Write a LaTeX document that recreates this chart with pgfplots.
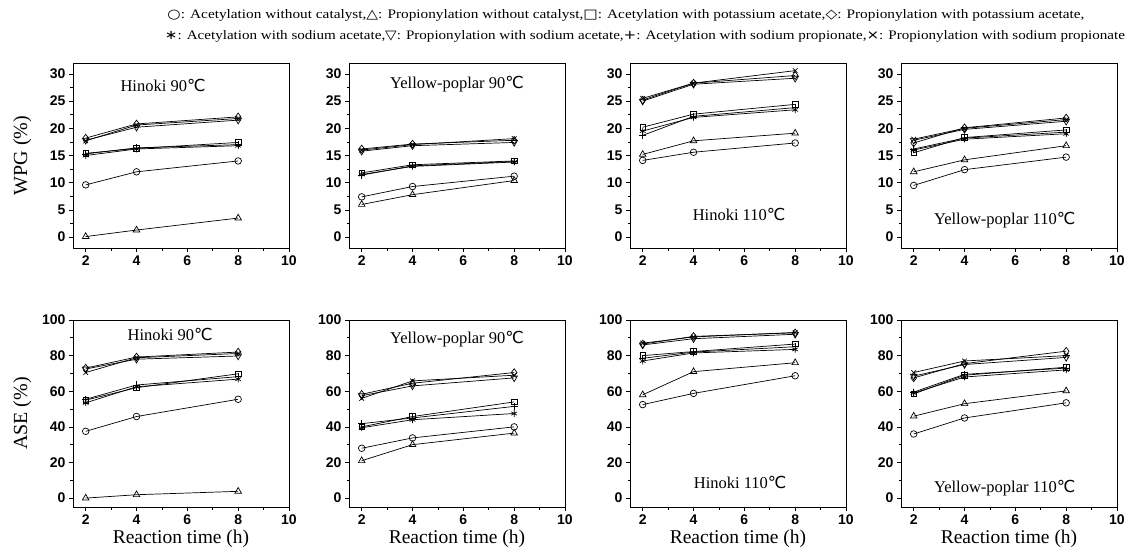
\documentclass[border=0pt]{standalone}
\usepackage{fontspec}
\setmainfont{Liberation Serif}
\newfontfamily\tickfont{Liberation Sans}
\newfontfamily\symfont{DejaVu Sans}
\usepackage{graphicx}
\usepackage{pgfplots}
\usepackage{pgfplotstable}
\pgfplotsset{compat=1.18}
\newcommand{\degC}{{\symfont ℃}}

% x O(Ac none) T(Pr none) Sq(Ac K) Di(Pr K) Ast(Ac Na-ac) TD(Pr Na-ac) Pl(Ac Na-pr) X(Pr Na-pr)
\pgfplotstableread{
x O T Sq Di Ast TD Pl X
2 9.6 0.1 15.4 18.2 15.0 17.8 15.3 17.7
4 12.0 1.3 16.3 20.8 16.2 20.2 16.4 20.6
8 14.0 3.5 17.4 22.1 16.8 21.5 17.0 21.8
}\wpgHa
\pgfplotstableread{
x O T Sq Di Ast TD Pl X
2 7.4 6.0 11.8 16.2 11.5 15.8 11.4 16.0
4 9.3 7.8 13.3 17.1 13.0 16.8 13.1 17.0
8 11.2 10.4 14.0 17.8 13.8 17.4 13.9 18.1
}\wpgYa
\pgfplotstableread{
x O T Sq Di Ast TD Pl X
2 14.1 15.2 20.2 25.2 19.5 25.0 18.7 25.5
4 15.6 17.7 22.6 28.3 22.0 28.1 22.2 28.3
8 17.3 19.1 24.4 29.7 23.4 29.2 23.8 30.6
}\wpgHb
\pgfplotstableread{
x O T Sq Di Ast TD Pl X
2 9.5 12.0 15.5 17.3 16.0 17.8 16.2 18.0
4 12.4 14.2 18.3 20.1 18.0 19.8 18.2 20.0
8 14.7 16.8 19.7 21.9 19.0 21.3 19.3 21.6
}\wpgYb
\pgfplotstableread{
x O T Sq Di Ast TD Pl X
2 37.5 0.0 55.0 73.0 53.5 72.5 55.5 70.5
4 45.8 1.9 62.0 79.2 62.5 78.0 63.5 78.8
8 55.5 3.8 69.8 82.0 66.8 79.8 68.2 81.2
}\aseHa
\pgfplotstableread{
x O T Sq Di Ast TD Pl X
2 28.0 21.0 40.0 58.3 39.5 57.5 41.8 56.0
4 33.8 30.0 45.8 64.5 44.0 63.0 45.0 65.8
8 40.0 36.5 54.0 70.5 47.5 67.5 51.5 69.0
}\aseYa
\pgfplotstableread{
x O T Sq Di Ast TD Pl X
2 52.5 58.0 80.0 86.5 77.0 86.0 78.5 87.0
4 58.8 71.0 82.3 90.8 81.5 89.5 82.0 90.5
8 68.7 76.0 86.5 92.8 83.5 92.0 85.0 93.0
}\aseHb
\pgfplotstableread{
x O T Sq Di Ast TD Pl X
2 36.0 46.0 58.5 67.5 59.0 68.5 59.5 70.5
4 45.0 53.0 69.0 75.5 68.0 75.0 69.5 77.0
8 53.5 60.2 73.5 82.5 72.0 79.0 73.0 80.0
}\aseYb

\pgfplotsset{
  panel/.style={scale only axis, width=216pt, anchor=north west,
    xmin=1.5, xmax=10, xtick={2,4,6,8,10}, minor x tick num=1,
    axis line style={line width=0.9pt}, tick style={black, line width=0.7pt},
    tick align=outside, tick pos=left, major tick length=4pt, minor tick length=2.5pt,
    tick label style={font=\tickfont\bfseries\fontsize{14}{15}\selectfont},
    /pgf/number format/assume math mode=true,
    every axis y label/.style={at={(axis description cs:-0.235,0.5)}, rotate=90, anchor=center, font=\fontsize{20}{23}\selectfont},
    every axis x label/.style={at={(axis description cs:0.5,-0.118)}, anchor=north, inner ysep=1pt, font=\fontsize{19.5}{22}\selectfont},
    every axis plot/.append style={black, line width=0.7pt, mark size=3.3pt, mark options={fill=white, solid, line width=0.7pt}},
  },
  toprow/.style={panel, height=185pt, ymin=-2, ymax=32, ytick={0,5,...,30}, minor y tick num=1},
  botrow/.style={panel, height=187pt, ymin=-5, ymax=100, ytick={0,20,...,100}, minor y tick num=1},
  pO/.style={mark=o},
  pT/.style={mark=triangle, mark size=3.8pt},
  pSq/.style={mark=square, mark size=2.8pt},
  pDi/.style={mark=diamond, mark size=3.8pt},
  pAst/.style={mark=asterisk, mark size=3.3pt},
  pTD/.style={mark=triangle, mark size=3.8pt, mark options={fill=white, solid, rotate=180, line width=0.7pt}},
  pPl/.style={mark=+, mark size=3.6pt},
  pX/.style={mark=x, mark size=3.3pt},
}
\newcommand\allplots[1]{%
  \addplot[pO] table[x=x,y=O]{#1};
  \addplot[pT] table[x=x,y=T]{#1};
  \addplot[pAst] table[x=x,y=Ast]{#1};
  \addplot[pPl] table[x=x,y=Pl]{#1};
  \addplot[pSq] table[x=x,y=Sq]{#1};
  \addplot[pX] table[x=x,y=X]{#1};
  \addplot[pTD] table[x=x,y=TD]{#1};
  \addplot[pDi] table[x=x,y=Di]{#1};
}
\newcommand\ttl[3]{\node[font=\fontsize{16.5}{19}\selectfont, anchor=center] at (rel axis cs:#1,#2) {#3};}

\begin{document}
\begin{tikzpicture}
\useasboundingbox (0,0) rectangle (1130pt,-549pt);
\node[anchor=center] at (626pt,-15pt) {\resizebox{917pt}{\height}{\fontsize{13}{15}\selectfont{\symfont ○}: Acetylation without catalyst,{\symfont △}: Propionylation without catalyst,{\symfont □}: Acetylation with potassium acetate,{\symfont ◇}: Propionylation with potassium acetate,}};
\node[anchor=center] at (645pt,-36pt) {\resizebox{960pt}{\height}{\fontsize{13}{15}\selectfont{\symfont ∗}: Acetylation with sodium acetate,{\symfont ▽}: Propionylation with sodium acetate,{\symfont +}: Acetylation with sodium propionate,{\symfont ×}: Propionylation with sodium propionate}};

\begin{axis}[toprow, at={(73pt,-63pt)}, ylabel={WPG (\%)}]
\allplots{\wpgHa}
\ttl{0.417}{0.88}{Hinoki 90\degC}
\end{axis}
\begin{axis}[toprow, at={(349pt,-63pt)}]
\allplots{\wpgYa}
\ttl{0.50}{0.885}{Yellow-poplar 90\degC}
\end{axis}
\begin{axis}[toprow, at={(630pt,-63pt)}]
\allplots{\wpgHb}
\ttl{0.505}{0.18}{Hinoki 110\degC}
\end{axis}
\begin{axis}[toprow, at={(901pt,-63pt)}]
\allplots{\wpgYb}
\ttl{0.48}{0.15}{Yellow-poplar 110\degC}
\end{axis}

\begin{axis}[botrow, at={(73pt,-320pt)}, ylabel={ASE (\%)}, xlabel={Reaction time (h)}]
\allplots{\aseHa}
\ttl{0.45}{0.92}{Hinoki 90\degC}
\end{axis}
\begin{axis}[botrow, at={(349pt,-320pt)}, xlabel={Reaction time (h)}]
\allplots{\aseYa}
\ttl{0.50}{0.90}{Yellow-poplar 90\degC}
\end{axis}
\begin{axis}[botrow, at={(630pt,-320pt)}, xlabel={Reaction time (h)}]
\allplots{\aseHb}
\ttl{0.51}{0.13}{Hinoki 110\degC}
\end{axis}
\begin{axis}[botrow, at={(901pt,-320pt)}, xlabel={Reaction time (h)}]
\allplots{\aseYb}
\ttl{0.48}{0.10}{Yellow-poplar 110\degC}
\end{axis}
\end{tikzpicture}
\end{document}
